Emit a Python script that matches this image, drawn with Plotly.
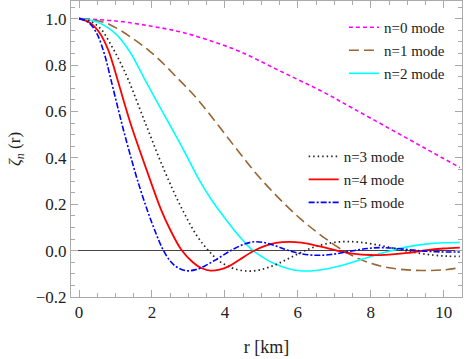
import plotly.graph_objects as go

# ---- data ----
x_n0 = [0, 1, 2, 2.77, 3.5, 4.41, 5.5, 6.69, 7.5, 8.5, 9.5, 10.44]
y_n0 = [1.0, 0.99, 0.967, 0.943, 0.91, 0.858, 0.775, 0.684, 0.614, 0.527, 0.44, 0.358]

x_n1 = [0, 0.4, 0.85, 1.95, 2.74, 3.26, 4.41, 5.0, 6.05, 7.0, 7.5, 8.0, 8.5, 9.0, 9.5, 10.0, 10.44]
y_n1 = [1.0, 0.994, 0.974, 0.858, 0.737, 0.65, 0.42, 0.306, 0.14, 0.025, -0.022, -0.055, -0.074,
        -0.083, -0.086, -0.083, -0.074]

x_n2 = [0, 0.5, 1.0, 1.4, 1.78, 2.15, 2.56, 2.9, 3.29, 3.65, 4.0, 4.35, 4.7, 5.0, 5.35, 5.7, 6.05,
        6.5, 7.0, 7.5, 8.0, 8.52, 9.0, 9.5, 10.0, 10.44]
y_n2 = [1.0, 0.985, 0.935, 0.855, 0.745, 0.638, 0.522, 0.424, 0.306, 0.215, 0.14, 0.07, 0.01,
        -0.025, -0.056, -0.076, -0.087, -0.086, -0.072, -0.05, -0.025, -0.002, 0.016, 0.028,
        0.034, 0.035]

x_n3 = [0, 0.3, 0.6, 0.9, 1.12, 1.35, 1.83, 2.33, 2.79, 3.24, 3.55, 3.8, 4.05, 4.3, 4.6, 4.9, 5.2,
        5.5, 5.8, 6.15, 6.5, 6.9, 7.3, 7.7, 8.2, 8.7, 9.2, 9.7, 10.1, 10.44]
y_n3 = [1.0, 0.99, 0.955, 0.88, 0.815, 0.737, 0.545, 0.349, 0.19, 0.062, 0.0, -0.04, -0.065,
        -0.08, -0.088, -0.085, -0.072, -0.053, -0.03, -0.003, 0.018, 0.033, 0.039, 0.036, 0.024,
        0.008, -0.008, -0.019, -0.024, -0.025]

x_n4 = [0, 0.3, 0.58, 0.8, 1.05, 1.25, 1.46, 1.85, 2.24, 2.5, 2.8, 3.12, 3.35, 3.6, 3.85, 4.1,
        4.41, 4.77, 5.1, 5.4, 5.75, 6.1, 6.6, 7.07, 7.5, 8.0, 8.5, 9.0, 9.53, 10.0, 10.44]
y_n4 = [1.0, 0.982, 0.935, 0.865, 0.74, 0.632, 0.525, 0.349, 0.18, 0.09, 0.005, -0.05, -0.075,
        -0.086, -0.082, -0.068, -0.038, -0.003, 0.02, 0.033, 0.038, 0.034, 0.018, 0.0, -0.013,
        -0.019, -0.017, -0.01, 0.002, 0.009, 0.013]

x_n5 = [0, 0.25, 0.49, 0.7, 0.87, 1.05, 1.21, 1.4, 1.6, 1.87, 2.1, 2.3, 2.5, 2.7, 2.95, 3.2, 3.45,
        3.7, 3.95, 4.22, 4.5, 4.8, 5.1, 5.42, 5.75, 6.1, 6.5, 6.9, 7.42, 7.9, 8.3, 8.8, 9.3, 9.8,
        10.44]
y_n5 = [1.0, 0.985, 0.935, 0.845, 0.74, 0.625, 0.525, 0.415, 0.305, 0.175, 0.078, 0.005, -0.045,
        -0.073, -0.087, -0.082, -0.066, -0.044, -0.02, 0.005, 0.026, 0.038, 0.034, 0.019, 0.0,
        -0.014, -0.02, -0.017, -0.003, 0.009, 0.013, 0.008, 0.0, -0.005, -0.006]

names = ["n=0 mode", "n=1 mode", "n=2 mode", "n=3 mode", "n=4 mode", "n=5 mode"]
xs = [x_n0, x_n1, x_n2, x_n3, x_n4, x_n5]
ys = [y_n0, y_n1, y_n2, y_n3, y_n4, y_n5]

styles = [
    dict(color="#FF00FF", width=1.6, dash="4px,3px"),
    dict(color="#996633", width=1.6, dash="10px,5px"),
    dict(color="#00FFFF", width=1.6, dash="solid"),
    dict(color="#222222", width=1.7, dash="1.5px,3px"),
    dict(color="#FF0000", width=1.8, dash="solid"),
    dict(color="#0000FF", width=1.6, dash="6px,2px,2px,2px"),
]
legends = ["legend", "legend", "legend", "legend2", "legend2", "legend2"]

fig = go.Figure()
for i in range(6):
    fig.add_trace(go.Scatter(
        x=xs[i], y=ys[i], mode="lines", name=names[i],
        line=dict(shape="spline", smoothing=1.0, **styles[i]),
        legend=legends[i], legendgroup=f"g{i}",
    ))

serif = "Times New Roman, Liberation Serif, DejaVu Serif, serif"
axis_common = dict(
    showline=True, linecolor="#aaaaaa", linewidth=1, mirror="allticks",
    ticks="inside", ticklen=7, tickcolor="#aaaaaa", tickwidth=1,
    showgrid=False, automargin=False,
    tickfont=dict(family=serif, size=17, color="#222222"),
)

fig.update_layout(
    width=469, height=359,
    margin=dict(l=71, r=7, t=1, b=62),
    paper_bgcolor="white", plot_bgcolor="white",
    xaxis=dict(range=[-0.22, 10.5], tickvals=[0, 2, 4, 6, 8, 10],
               minor=dict(dtick=0.5, tick0=0, ticks="inside", ticklen=4, tickcolor="#aaaaaa"),
               zeroline=False,
               title=dict(text="r [km]", font=dict(family=serif, size=18, color="#222222"), standoff=18),
               **axis_common),
    yaxis=dict(range=[-0.2, 1.076], tickvals=[-0.2, 0, 0.2, 0.4, 0.6, 0.8, 1.0],
               ticktext=["\u22120.2", "0.0", "0.2", "0.4", "0.6", "0.8", "1.0"],
               minor=dict(dtick=0.05, tick0=0, ticks="inside", ticklen=4, tickcolor="#aaaaaa"),
               zeroline=True, zerolinecolor="#444444", zerolinewidth=1,
               title=dict(text="<i>ζ<sub>n</sub></i> (r)", font=dict(family=serif, size=17, color="#222222"), standoff=10),
               **axis_common),
    legend=dict(x=0.698, y=0.966, xanchor="left", yanchor="top", bgcolor="rgba(0,0,0,0)",
                font=dict(family=serif, size=15, color="#222222"), tracegroupgap=0.5),
    legend2=dict(x=0.595, y=0.53, xanchor="left", yanchor="top", bgcolor="rgba(0,0,0,0)",
                 font=dict(family=serif, size=15, color="#222222"), tracegroupgap=0.5),
    showlegend=True,
)

fig.write_html("out.html", config={"displayModeBar": False},
               post_script="document.body.style.margin='0';document.body.style.padding='0';")
